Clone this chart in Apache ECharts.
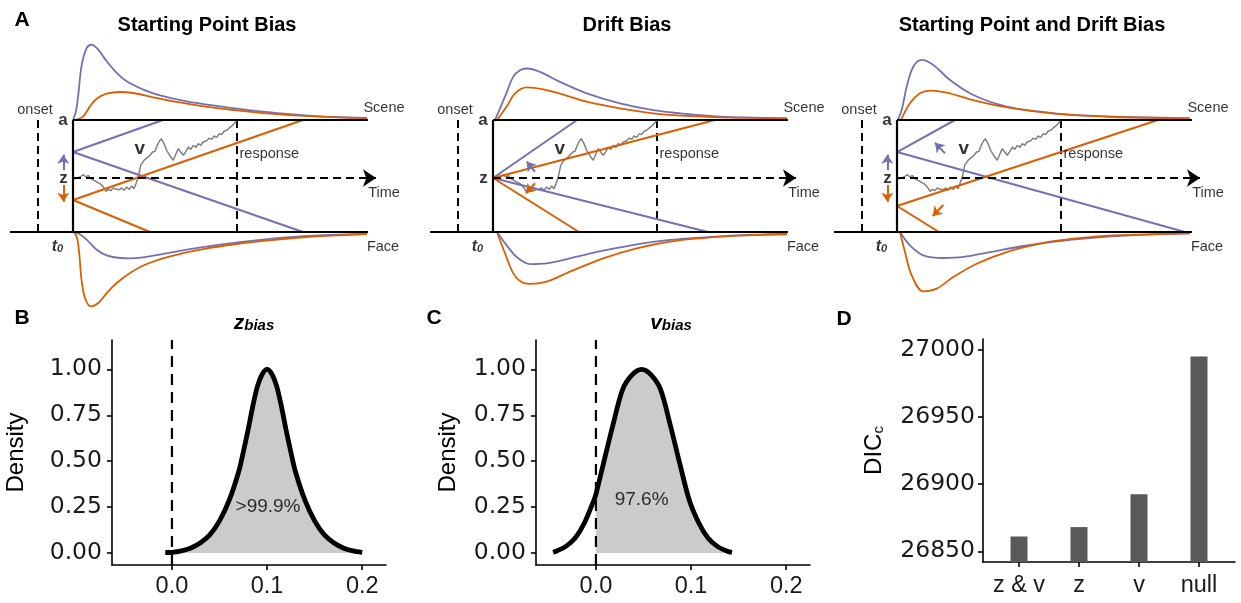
<!DOCTYPE html>
<html><head><meta charset="utf-8">
<script src="https://cdn.jsdelivr.net/npm/echarts@6/dist/echarts.min.js"></script>
<style>html,body{margin:0;padding:0;background:#fff}#c{width:1241px;height:603px}</style>
</head><body><div id="c"></div>
<script>
// ================= DATA =================
// Panel A: schematic drift-diffusion diagrams (time units, evidence 0 = Face bound, 1 = Scene bound)
const diagramTitles = ['Starting Point Bias', 'Drift Bias', 'Starting Point and Drift Bias'];
const onsetT = -0.35, responseT = 1.64, boundEndT = 2.95, baselineStartT = -0.63, zLevel = 0.482, timeArrowT = 3.03;
const purpleStart = [0.714, 0.482, 0.714];
const orangeStart = [0.286, 0.482, 0.232];
const purpleUpperHit = [0.90, 0.84, 0.58];
const purpleLowerHit = [2.30, 2.15, 2.88];
const orangeUpperHit = [2.30, 2.22, 2.61];
const orangeLowerHit = [0.77, 0.86, 0.42];

// sample accumulation path (time, evidence)
const walkPath = [[0,0.482],[0.03,0.476],[0.07,0.491],[0.103,0.512],[0.13,0.491],[0.153,0.506],[0.177,0.476],[0.21,0.461],[0.237,0.446],[0.27,0.432],[0.303,0.402],[0.33,0.363],[0.353,0.381],[0.377,0.369],[0.403,0.393],[0.43,0.381],[0.463,0.378],[0.487,0.393],[0.51,0.372],[0.537,0.402],[0.563,0.381],[0.587,0.411],[0.61,0.387],[0.63,0.432],[0.647,0.476],[0.66,0.521],[0.677,0.595],[0.697,0.61],[0.71,0.64],[0.73,0.631],[0.753,0.67],[0.77,0.661],[0.797,0.714],[0.82,0.72],[0.843,0.774],[0.863,0.81],[0.883,0.833],[0.91,0.789],[0.937,0.729],[0.97,0.679],[1.003,0.64],[1.03,0.699],[1.053,0.744],[1.077,0.714],[1.103,0.685],[1.13,0.72],[1.153,0.759],[1.177,0.738],[1.203,0.774],[1.23,0.756],[1.253,0.789],[1.277,0.774],[1.303,0.804],[1.337,0.815],[1.363,0.839],[1.387,0.827],[1.41,0.857],[1.437,0.845],[1.463,0.878],[1.487,0.869],[1.51,0.899],[1.537,0.908],[1.563,0.929],[1.587,0.946],[1.61,0.967],[1.64,1.0]];

// RT distributions: [time, height beyond bound]
const rtScenePurple1 = [[0,0],[0.03,0.08],[0.053,0.226],[0.087,0.49],[0.137,0.643],[0.187,0.672],[0.253,0.628],[0.337,0.524],[0.437,0.42],[0.537,0.345],[0.703,0.271],[0.87,0.22],[1.137,0.167],[1.47,0.122],[1.8,0.083],[2.137,0.054],[2.47,0.033],[2.94,0.018]];
const rtSceneOrange1 = [[0.02,0],[0.103,0.033],[0.17,0.122],[0.237,0.19],[0.337,0.235],[0.47,0.25],[0.603,0.241],[0.803,0.203],[1.037,0.161],[1.303,0.122],[1.637,0.086],[1.97,0.056],[2.303,0.036],[2.637,0.024],[2.94,0.018]];
const rtFacePurple1 = [[0.01,0],[0.06,0.015],[0.137,0.068],[0.237,0.158],[0.337,0.208],[0.47,0.232],[0.57,0.235],[0.703,0.226],[0.903,0.196],[1.137,0.158],[1.47,0.113],[1.803,0.077],[2.137,0.048],[2.47,0.03],[2.94,0.018]];
const rtFaceOrange1 = [[0.01,0],[0.04,0.05],[0.063,0.2],[0.087,0.44],[0.12,0.589],[0.177,0.664],[0.253,0.634],[0.337,0.545],[0.437,0.455],[0.57,0.366],[0.737,0.286],[0.97,0.217],[1.303,0.152],[1.637,0.107],[1.97,0.074],[2.303,0.047],[2.637,0.03],[2.94,0.018]];

const rtScenePurple2 = [[0.02,0],[0.12,0.208],[0.203,0.387],[0.27,0.445],[0.337,0.46],[0.47,0.43],[0.67,0.34],[0.937,0.238],[1.27,0.149],[1.603,0.089],[1.937,0.054],[2.27,0.03],[2.6,0.021],[2.94,0.015]];
const rtSceneOrange2 = [[0.04,0],[0.137,0.12],[0.22,0.238],[0.337,0.292],[0.503,0.274],[0.703,0.226],[0.937,0.164],[1.27,0.104],[1.603,0.06],[1.937,0.036],[2.27,0.024],[2.94,0.015]];
const rtFacePurple2 = [[0.04,0],[0.137,0.119],[0.237,0.223],[0.37,0.286],[0.537,0.28],[0.77,0.235],[1.103,0.167],[1.437,0.11],[1.77,0.071],[2.103,0.048],[2.437,0.03],[2.94,0.018]];
const rtFaceOrange2 = [[0.04,0],[0.12,0.19],[0.203,0.369],[0.28,0.445],[0.37,0.464],[0.537,0.443],[0.77,0.354],[1.103,0.235],[1.437,0.146],[1.77,0.086],[2.103,0.054],[2.437,0.033],[2.94,0.021]];

const rtScenePurple3 = [[0.01,0],[0.05,0.1],[0.097,0.298],[0.163,0.476],[0.247,0.536],[0.363,0.491],[0.53,0.357],[0.763,0.223],[1.097,0.119],[1.43,0.074],[1.763,0.045],[2.163,0.03],[2.663,0.021],[2.93,0.015]];
const rtSceneOrange3 = [[0.04,0],[0.13,0.149],[0.23,0.238],[0.33,0.262],[0.497,0.244],[0.73,0.185],[1.063,0.119],[1.397,0.074],[1.73,0.045],[2.163,0.027],[2.663,0.018],[2.93,0.015]];
const rtFacePurple3 = [[0.03,0],[0.13,0.119],[0.263,0.208],[0.463,0.232],[0.663,0.223],[0.93,0.179],[1.263,0.125],[1.597,0.083],[1.93,0.054],[2.33,0.03],[2.93,0.012]];
const rtFaceOrange3 = [[0.03,0],[0.08,0.179],[0.147,0.387],[0.263,0.53],[0.397,0.506],[0.563,0.402],[0.797,0.283],[1.097,0.179],[1.43,0.104],[1.763,0.06],[2.163,0.03],[2.93,0.012]];

// bias arrows: [fromT, fromY, toT, toY]
const purpleArrows = [[[-0.097,0.554,-0.097,0.69]], [[0.42,0.538,0.337,0.628]], [[-0.097,0.554,-0.097,0.69],[0.48,0.702,0.38,0.797]]];
const orangeArrows = [[[-0.097,0.42,-0.097,0.27]], [[0.42,0.435,0.33,0.345]], [[-0.097,0.42,-0.097,0.27],[0.463,0.241,0.357,0.143]]];

// Panel B: z_bias posterior
const zbiasX = [-0.007,0,0.01,0.02,0.03,0.04,0.05,0.06,0.07,0.075,0.08,0.085,0.09,0.095,0.1,0.105,0.11,0.115,0.12,0.125,0.13,0.14,0.15,0.16,0.17,0.18,0.19,0.2];
const zbiasY = [0.003,0.004,0.012,0.028,0.056,0.10,0.175,0.285,0.44,0.55,0.67,0.80,0.91,0.975,1.0,0.975,0.91,0.80,0.67,0.55,0.44,0.285,0.175,0.10,0.056,0.028,0.012,0.004];
// Panel C: v_bias posterior
const vbiasX = [-0.045,-0.042,-0.032,-0.022,-0.012,-0.002,0.0,0.008,0.018,0.028,0.038,0.048,0.058,0.068,0.078,0.088,0.098,0.108,0.118,0.128,0.138,0.143];
const vbiasY = [0.004,0.01,0.035,0.08,0.165,0.29,0.32,0.49,0.70,0.89,0.97,1.0,0.97,0.89,0.70,0.49,0.29,0.165,0.08,0.035,0.01,0.004];
const densityTicks = [0, 0.25, 0.5, 0.75, 1.0];
const biasTicks = [0, 0.1, 0.2];
const zbiasPct = '>99.9%', vbiasPct = '97.6%';
// Panel D: model comparison
const dicModels = ['z & v', 'z', 'v', 'null'];
const dicValues = [26861, 26868, 26892.5, 26995];
const dicTicks = [26850, 26900, 26950, 27000];

// ================= BUILD =================
const PURPLE = '#7570b3', ORANGE = '#d95f02', FONT = 'Liberation Sans', WIDEFONT = 'DejaVu Sans';
const t0px = [73, 493, 897];
const grids = [], xAxes = [], yAxes = [], series = [];

function line(gi, pts, color, width, opts) {
  return Object.assign({type:'line', xAxisIndex:gi, yAxisIndex:gi, data:pts, symbol:'none', silent:true, animation:false,
    lineStyle:{color:color, width:width, type:'solid'}}, opts || {});
}
function arrowSeries(gi, list, color, size, width, dash) {
  return {type:'line', xAxisIndex:gi, yAxisIndex:gi, data:[], symbol:'none', silent:true, animation:false,
    markLine:{silent:true, animation:false, symbol:['none','arrow'], symbolSize:size, label:{show:false},
      lineStyle:{color:color, width:width, type:dash || 'solid'},
      data:list.map(a => [{coord:[a[0],a[1]]},{coord:[a[2],a[3]]}])}};
}
function textSeries(gi, items) {
  return {type:'scatter', xAxisIndex:gi, yAxisIndex:gi, symbolSize:0, silent:true, animation:false, z:10,
    data:items.map(it => ({value:[it.x,it.y], label:Object.assign({show:true, position:'inside', color:'#000', fontFamily:FONT, fontSize:14.5}, it.l)}))};
}

const rtSets = [
  [rtScenePurple1, rtSceneOrange1, rtFacePurple1, rtFaceOrange1],
  [rtScenePurple2, rtSceneOrange2, rtFacePurple2, rtFaceOrange2],
  [rtScenePurple3, rtSceneOrange3, rtFacePurple3, rtFaceOrange3]
];

for (let i = 0; i < 3; i++) {
  grids.push({left:t0px[i] - 70, top:36, width:410, height:280});
  xAxes.push({type:'value', gridIndex:i, min:-0.7, max:3.4, show:false});
  yAxes.push({type:'value', gridIndex:i, min:-0.75, max:1.75, show:false});
  const g = i;
  const dash = [8,5];
  const rs = rtSets[i];
  series.push(line(g, rs[0].map(p => [p[0], 1 + p[1]]), PURPLE, 1.8, {smooth:0.35}));
  series.push(line(g, rs[1].map(p => [p[0], 1 + p[1]]), ORANGE, 1.8, {smooth:0.35}));
  series.push(line(g, rs[2].map(p => [p[0], -p[1]]), PURPLE, 1.8, {smooth:0.35}));
  series.push(line(g, rs[3].map(p => [p[0], -p[1]]), ORANGE, 1.8, {smooth:0.35}));
  series.push(line(g, [[onsetT,1],[onsetT,0]], '#000', 2, {lineStyle:{color:'#000', width:2, type:dash}}));
  series.push(line(g, [[responseT,1],[responseT,0]], '#000', 2, {lineStyle:{color:'#000', width:2, type:dash}}));
  series.push(arrowSeries(g, [[0, zLevel, timeArrowT, zLevel]], '#000', 13, 2, dash));
  series.push(line(g, walkPath, '#808080', 1.5));
  series.push(line(g, [[purpleUpperHit[i],1],[0,purpleStart[i]],[purpleLowerHit[i],0]], PURPLE, 2));
  series.push(line(g, [[orangeUpperHit[i],1],[0,orangeStart[i]],[orangeLowerHit[i],0]], ORANGE, 2));
  series.push(line(g, [[baselineStartT,0],[boundEndT,0]], '#000', 2.2, {z:5}));
  series.push(line(g, [[0,1],[boundEndT,1]], '#000', 2.2, {z:5}));
  series.push(line(g, [[0,0],[0,1]], '#000', 2.2, {z:5}));
  series.push(arrowSeries(g, purpleArrows[i], PURPLE, 9, 2));
  series.push(arrowSeries(g, orangeArrows[i], ORANGE, 9, 2));
  const txt = [
    {x:-0.38, y:1.09, l:{formatter:'onset'}},
    {x:-0.10, y:0.994, l:{formatter:'a', fontWeight:'bold', fontSize:17}},
    {x:-0.095, y:0.48, l:{formatter:'z', fontWeight:'bold', fontSize:17}},
    {x:3.11, y:1.104, l:{formatter:'Scene'}},
    {x:3.11, y:0.351, l:{formatter:'Time'}},
    {x:3.10, y:-0.137, l:{formatter:'Face'}},
    {x:-0.155, y:-0.13, l:{formatter:'{t|t}{s|0}', rich:{t:{fontSize:16, fontWeight:'bold', fontStyle:'italic', fontFamily:FONT}, s:{fontSize:11, fontWeight:'bold', fontStyle:'italic', fontFamily:FONT, verticalAlign:'bottom'}}}},
    {x:1.665, y:0.696, l:{formatter:'response', position:'right', distance:0}},
    {x:0.667, y:0.741, l:{formatter:'v', fontWeight:'bold', fontSize:19}}
  ];
  series.push(textSeries(g, txt));
}

function axisCommon(extra) {
  return Object.assign({
    axisLine:{show:true, onZero:false, lineStyle:{color:'#000', width:1.6}},
    axisTick:{show:true, length:5, lineStyle:{color:'#000', width:1.6}},
    splitLine:{show:false},
  }, extra);
}
const xTickLabel = {color:'#1a1a1a', fontSize:23.5, fontFamily:FONT};
const yTickLabel = {color:'#1a1a1a', fontSize:23.5, fontFamily:WIDEFONT};

const densPanels = [
  {gi:3, left:112, xs:zbiasX, ys:zbiasY, pct:zbiasPct, pctPos:[0.101,0.25], nameGap:84},
  {gi:4, left:536, xs:vbiasX, ys:vbiasY, pct:vbiasPct, pctPos:[0.048,0.29], nameGap:76}
];
densPanels.forEach(p => {
  grids.push({left:p.left, top:340, width:274, height:225});
  xAxes.push(axisCommon({type:'value', gridIndex:p.gi, min:-0.063, max:0.225,
    axisTick:{show:true, length:5, lineStyle:{color:'#000', width:1.6}, customValues:biasTicks},
    axisLabel:Object.assign({customValues:biasTicks, margin:10, formatter:v => v.toFixed(1)}, xTickLabel)}));
  yAxes.push(axisCommon({type:'value', gridIndex:p.gi, min:-0.065, max:1.16,
    name:'Density', nameLocation:'middle', nameGap:p.nameGap, nameRotate:90,
    nameTextStyle:{fontSize:24, color:'#000', fontFamily:FONT},
    axisTick:{show:true, length:5, lineStyle:{color:'#000', width:1.6}, customValues:densityTicks},
    axisLabel:Object.assign({customValues:densityTicks, margin:10, formatter:v => v.toFixed(2)}, yTickLabel)}));
  const pts = p.xs.map((x, k) => [x, p.ys[k]]);
  series.push(line(p.gi, pts.filter(q => q[0] >= 0), '#000', 0, {smooth:0.3, lineStyle:{width:0, opacity:0}, areaStyle:{color:'#cbcbcb', opacity:1}, z:1}));
  series.push(line(p.gi, [[0,-0.065],[0,1.16]], '#000', 2.2, {lineStyle:{color:'#000', width:2.2, type:[11,7]}, z:2}));
  series.push(line(p.gi, pts, '#000', 4.8, {smooth:0.3, z:3}));
  series.push(textSeries(p.gi, [{x:p.pctPos[0], y:p.pctPos[1], l:{formatter:p.pct, fontSize:19, color:'#000'}}]));
});

grids.push({left:983, top:339, width:252, height:223});
xAxes.push(axisCommon({type:'value', gridIndex:5, min:0.4, max:4.6,
  axisTick:{show:true, length:5, lineStyle:{color:'#000', width:1.6}, customValues:[1,2,3,4]},
  axisLabel:Object.assign({customValues:[1,2,3,4], margin:12, formatter:v => dicModels[Math.round(v) - 1]}, xTickLabel)}));
yAxes.push(axisCommon({type:'value', gridIndex:5, min:26842, max:27008,
  name:'{m|DIC}{s|c}', nameLocation:'middle', nameGap:97, nameRotate:90,
  nameTextStyle:{color:'#000', fontFamily:FONT, rich:{m:{fontSize:24, fontFamily:FONT, color:'#000'}, s:{fontSize:15, fontFamily:FONT, color:'#000', verticalAlign:'bottom'}}},
  axisTick:{show:true, length:5, lineStyle:{color:'#000', width:1.6}, customValues:dicTicks},
  axisLabel:Object.assign({customValues:dicTicks, margin:8, formatter:v => String(Math.round(v))}, yTickLabel)}));
series.push({type:'bar', xAxisIndex:5, yAxisIndex:5, barWidth:17, silent:true, animation:false,
  itemStyle:{color:'#595959'}, data:dicValues.map((v, k) => [k + 1, v])});

function gText(x, y, text, size, extra) {
  return {type:'text', x:x, y:y, silent:true, style:Object.assign({text:text, fontSize:size, fontWeight:'bold', fontFamily:FONT, fill:'#000', align:'center', verticalAlign:'middle'}, extra || {})};
}
const subRich = {m:{fontSize:21, fontWeight:'bold', fontStyle:'italic', fontFamily:FONT}, s:{fontSize:15, fontWeight:'bold', fontStyle:'italic', fontFamily:FONT, verticalAlign:'bottom'}};
const graphics = [
  gText(22, 20, 'A', 21), gText(22, 318, 'B', 21), gText(434, 318, 'C', 21), gText(844, 319, 'D', 21),
  gText(207, 25, diagramTitles[0], 20), gText(627, 25, diagramTitles[1], 20), gText(1032, 25, diagramTitles[2], 20),
  gText(254, 323, '{m|z}{s|bias}', 20, {rich:subRich}),
  gText(671, 323, '{m|v}{s|bias}', 20, {rich:subRich})
];

const chart = echarts.init(document.getElementById('c'), null, {renderer:'canvas'});
chart.setOption({
  animation:false,
  textStyle:{fontFamily:FONT},
  grid:grids, xAxis:xAxes, yAxis:yAxes, series:series, graphic:graphics
});
</script></body></html>
